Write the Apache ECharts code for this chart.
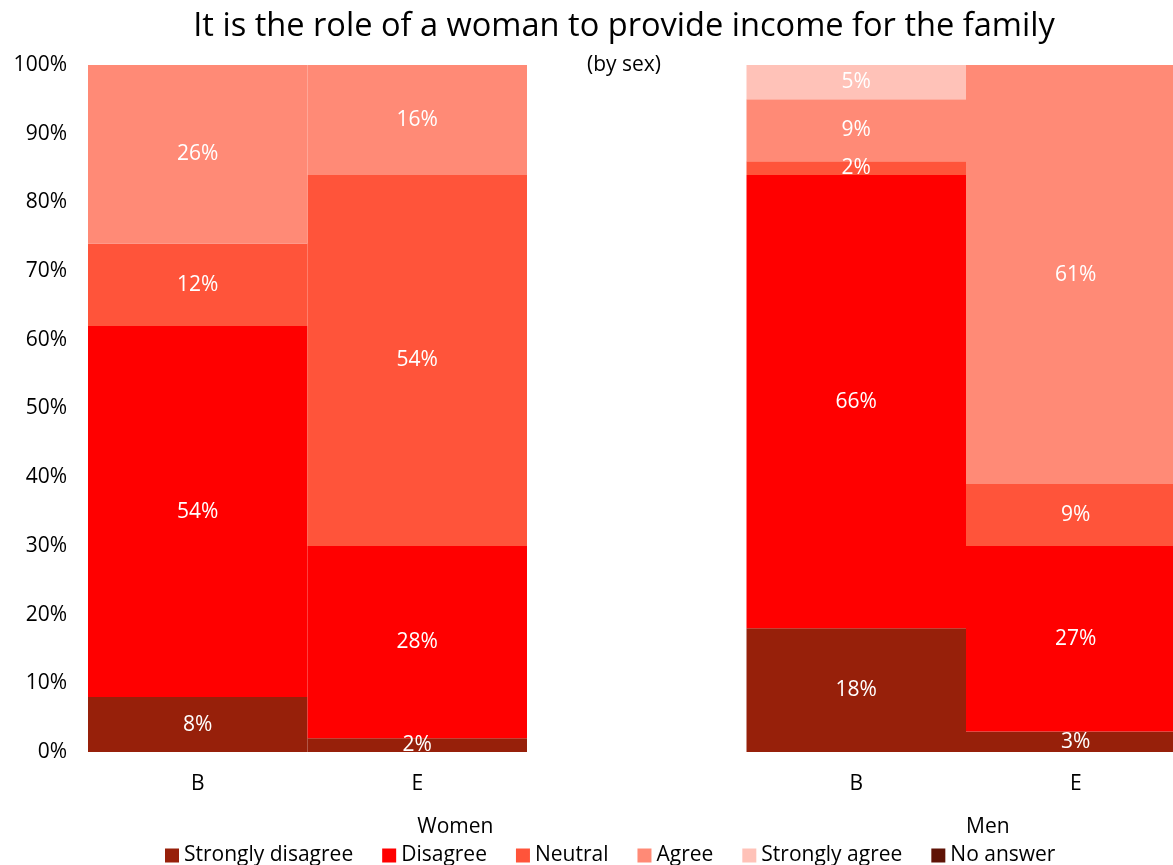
<!DOCTYPE html>
<html>
<head>
<meta charset="utf-8">
<script src="https://cdn.jsdelivr.net/npm/echarts@6/dist/echarts.min.js"></script>
<style>
html,body{margin:0;padding:0;background:#fff;}
#chart{width:1173px;height:865px;}
</style>
</head>
<body>
<div id="chart"></div>
<script>
// Categories: Women B, Women E, spacer, Men B, Men E
const categories = ['B', 'E', '', 'B', 'E'];
const groups = [
  { name: 'Women', from: 0, to: 2 },
  { name: 'Men', from: 3, to: 4 }
];

// Percentages per answer, one value per category (null for the spacer column)
const stronglyDisagree = [8, 2, null, 18, 3];
const disagree         = [54, 28, null, 66, 27];
const neutral          = [12, 54, null, 2, 9];
const agree            = [26, 16, null, 9, 61];
const stronglyAgree    = [0, 0, null, 5, 0];
const noAnswer         = [0, 0, null, 0, 0];

const yTicks = [0, 10, 20, 30, 40, 50, 60, 70, 80, 90, 100];

const seriesDefs = [
  { name: 'Strongly disagree', data: stronglyDisagree, color: '#97200A' },
  { name: 'Disagree',          data: disagree,         color: '#FF0000' },
  { name: 'Neutral',           data: neutral,          color: '#FF543A' },
  { name: 'Agree',             data: agree,            color: '#FF8A76' },
  { name: 'Strongly agree',    data: stronglyAgree,    color: '#FFC2B8' },
  { name: 'No answer',         data: noAnswer,         color: '#5F1306' }
];

const FONT = '"Open Sans", "Noto Sans", sans-serif';
const FS = 21;

const chart = echarts.init(document.getElementById('chart'), null, { renderer: 'canvas' });

const gridLeft = 88, gridTop = 65, gridHeight = 687;
const gridWidth = 1097.5;

const option = {
  animation: false,
  backgroundColor: '#ffffff',
  textStyle: { fontFamily: FONT },
  title: [
    {
      text: 'It is the role of a woman to provide income for the family',
      left: 619, top: 5, textAlign: 'center',
      textStyle: { fontFamily: FONT, fontSize: 32.6, fontWeight: 'normal', color: '#000' }
    },
    {
      text: '(by sex)',
      left: 619, top: 50, textAlign: 'center',
      textStyle: { fontFamily: FONT, fontSize: 21, fontWeight: 'normal', color: '#000' }
    }
  ],
  legend: {
    left: 160, top: 840,
    itemWidth: 14, itemHeight: 14, itemGap: 29,
    icon: 'rect',
    textStyle: { fontFamily: FONT, fontSize: FS, color: '#000' },
    data: seriesDefs.map(s => s.name)
  },
  grid: {
    left: gridLeft, top: gridTop, width: gridWidth, height: gridHeight,
    containLabel: false, outerBoundsMode: 'none'
  },
  xAxis: {
    type: 'category',
    data: categories,
    axisLine: { show: false },
    axisTick: { show: false },
    axisLabel: { fontFamily: FONT, fontSize: FS, color: '#000', margin: 22 }
  },
  yAxis: {
    type: 'value',
    min: 0, max: 100, interval: 10,
    axisLine: { show: false },
    axisTick: { show: false },
    splitLine: { show: false },
    axisLabel: {
      fontFamily: FONT, fontSize: FS, color: '#000', margin: 21,
      formatter: v => yTicks.includes(v) ? v + '%' : ''
    }
  },
  series: seriesDefs.map(s => ({
    name: s.name,
    type: 'bar',
    stack: 'total',
    barWidth: '100%',
    barCategoryGap: 0,
    data: s.data,
    itemStyle: { color: s.color },
    label: {
      show: true,
      position: 'inside',
      color: '#fff',
      fontFamily: FONT,
      fontSize: FS,
      formatter: p => (p.value ? p.value + '%' : '')
    },
    emphasis: { disabled: true }
  }))
};

chart.setOption(option);

// Group captions centred under their category spans
const colW = gridWidth / categories.length;
chart.setOption({
  graphic: groups.map(g => ({
    type: 'text',
    left: gridLeft + colW * ((g.from + g.to + 1) / 2),
    top: 817,
    style: {
      text: g.name,
      font: FS + 'px ' + FONT,
      fill: '#000',
      textAlign: 'center'
    }
  }))
});
</script>
</body>
</html>
